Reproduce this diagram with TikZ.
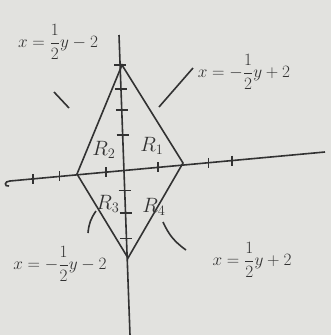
\documentclass[tikz,border=0pt]{standalone}
\usepackage{amsmath}
\usetikzlibrary{calc}

\definecolor{paper}{RGB}{226,226,223}
\definecolor{pencil}{RGB}{50,50,50}

\begin{document}
\begin{tikzpicture}[x=1pt,y=-1pt,line width=1.6pt,draw=pencil,text=pencil,
  lbl/.style={font=\LARGE,inner sep=1pt},
  region/.style={font=\huge,inner sep=1pt}]
\fill[paper] (0,0) rectangle (331,335);
\useasboundingbox (0,0) rectangle (331,335);

% axes
\coordinate (hl) at (10,181);
\coordinate (hr) at (325,152);
\coordinate (vt) at (119,35);
\coordinate (vb) at (130,335);
\draw (hl) -- (hr);
\draw (hl) .. controls (4,181) and (4,187) .. (9,186);
\draw (vt) -- (vb);

\foreach \t in {0.073,0.156,0.305,0.47,0.629,0.705}
  \draw[line width=1.2pt] ($(hl)!\t!(hr)$) ++(0,-5) -- ++(0,10);
\foreach \t in {0.1,0.18,0.25,0.333,0.517,0.593,0.677}
  \draw[line width=1.2pt] ($(vt)!\t!(vb)$) ++(-6,0) -- ++(12,0);

% diamond
\coordinate (top) at (122,65);
\coordinate (left) at (77,174);
\coordinate (right) at (183,163);
\coordinate (bot) at (128,258);
\draw (top) -- (right) -- (bot) -- (left) -- cycle;

% regions
\node[region] (r1) at (152,146) {$R_1$};
\node[region] (r2) at (104,150) {$R_2$};
\node[region] (r3) at (108,204) {$R_3$};
\node[region] (r4) at (154,207) {$R_4$};

% edge equations
\node[lbl] (e2) at (58,42) {$x=\dfrac{1}{2}y-2$};
\node[lbl] (e1) at (244,72) {$x=-\dfrac{1}{2}y+2$};
\node[lbl] (e3) at (60,264) {$x=-\dfrac{1}{2}y-2$};
\node[lbl] (e4) at (252,260) {$x=\dfrac{1}{2}y+2$};

\coordinate (p2a) at (54,92);
\coordinate (p2b) at (69,108);
\draw (p2a) -- (p2b);
\coordinate (p1a) at (193,68);
\coordinate (p1b) at (159,107);
\draw (p1a) -- (p1b);
\coordinate (p3a) at (96,211);
\coordinate (p3b) at (88,233);
\draw (p3a) to[bend right=15] (p3b);
\coordinate (p4a) at (163,222);
\coordinate (p4b) at (186,250);
\draw (p4a) to[bend right=15] (p4b);
\end{tikzpicture}
\end{document}
